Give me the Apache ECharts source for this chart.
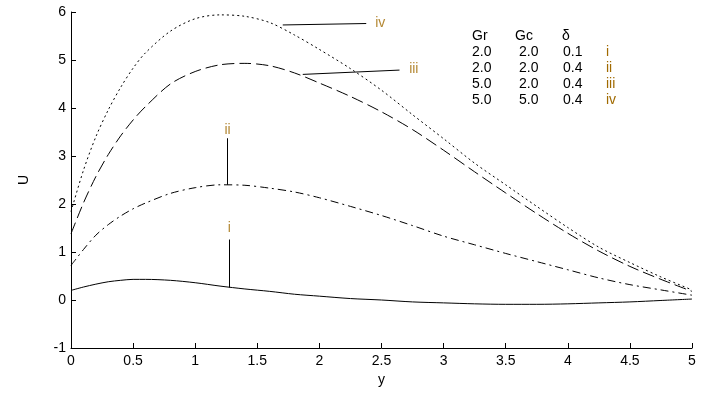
<!DOCTYPE html>
<html>
<head>
<meta charset="utf-8">
<script src="https://cdn.jsdelivr.net/npm/echarts@6/dist/echarts.min.js"></script>
<style>
  html, body { margin: 0; padding: 0; background: #fff; }
  #main { width: 710px; height: 394px; }
</style>
</head>
<body>
<div id="main"></div>
<script>
// y positions shared by all curves
var yPos = [0, 0.1, 0.2, 0.3, 0.4, 0.5, 0.6, 0.8, 1.0, 1.2, 1.4, 1.6, 1.8, 2.0,
            2.25, 2.5, 2.75, 3.0, 3.25, 3.5, 3.75, 4.0, 4.25, 4.5, 4.75, 5.0];

// U values
var uI   = [0.20, 0.27, 0.33, 0.38, 0.41, 0.43, 0.43, 0.41, 0.36, 0.29, 0.23, 0.18, 0.12, 0.08,
            0.03, 0.00, -0.04, -0.06, -0.08, -0.09, -0.09, -0.08, -0.06, -0.04, -0.01, 0.02];
var uII  = [0.72, 1.05, 1.35, 1.57, 1.75, 1.90, 2.02, 2.22, 2.34, 2.40, 2.39, 2.33, 2.25, 2.13,
            1.95, 1.76, 1.55, 1.33, 1.15, 0.97, 0.80, 0.63, 0.46, 0.32, 0.21, 0.10];
var uIII = [1.38, 2.02, 2.57, 3.03, 3.42, 3.75, 4.03, 4.50, 4.76, 4.90, 4.93, 4.88, 4.73, 4.52,
            4.24, 3.92, 3.55, 3.12, 2.67, 2.23, 1.80, 1.39, 1.02, 0.70, 0.43, 0.18];
var uIV  = [1.84, 2.70, 3.40, 3.96, 4.43, 4.83, 5.15, 5.60, 5.86, 5.94, 5.91, 5.78, 5.52, 5.22,
            4.82, 4.37, 3.86, 3.36, 2.85, 2.40, 1.95, 1.51, 1.10, 0.78, 0.48, 0.21];

// curve labels and their leader lines (data coords)
var curveNames = ['i', 'ii', 'iii', 'iv'];
var leaders = [
  [[1.275, 0.26], [1.275, 1.26]],
  [[1.26, 2.40], [1.26, 3.37]],
  [[1.866, 4.70], [2.645, 4.79]],
  [[1.705, 5.73], [2.377, 5.76]]
];
var labelAt = [[1.275, 1.50], [1.26, 3.53], [2.76, 4.80], [2.49, 5.77]];

// parameter table
var tableHead = ['Gr', 'Gc', 'δ'];
var tableRows = [
  ['2.0', '2.0', '0.1', 'i'],
  ['2.0', '2.0', '0.4', 'ii'],
  ['5.0', '2.0', '0.4', 'iii'],
  ['5.0', '5.0', '0.4', 'iv']
];

function pairs(ys) {
  return yPos.map(function (x, i) { return [x, ys[i]]; });
}

var FONT = 'Liberation Sans, Arial, sans-serif';
var LABEL_COLOR = '#a06a00';

function curve(name, ys, dash) {
  return {
    name: name,
    type: 'line',
    data: pairs(ys),
    showSymbol: false,
    smooth: 0.3,
    lineStyle: { color: '#000', width: 1, type: dash },
    z: 3
  };
}

var colX = [472, 519, 563, 606];
var headX = [472, 515, 562];
var rowY = [53, 69, 85, 101];
var graphics = [];
tableHead.forEach(function (t, i) {
  graphics.push({ type: 'text', left: headX[i], top: 37 - 8,
    style: { text: t, font: '14px ' + FONT, fill: '#000' } });
});
tableRows.forEach(function (row, r) {
  row.forEach(function (t, c) {
    graphics.push({ type: 'text', left: colX[c], top: rowY[r] - 8,
      style: { text: t, font: '14px ' + FONT, fill: c === 3 ? LABEL_COLOR : '#000' } });
  });
});

var chart = echarts.init(document.getElementById('main'));
chart.setOption({
  animation: false,
  backgroundColor: '#fff',
  grid: { left: 71, right: 18, top: 12, bottom: 46 },
  xAxis: {
    type: 'value', min: 0, max: 5, interval: 0.5,
    name: 'y', nameLocation: 'middle', nameGap: 23,
    nameTextStyle: { color: '#000', fontSize: 14, fontFamily: FONT },
    axisLine: { onZero: false, lineStyle: { color: '#000', width: 1 } },
    axisTick: { inside: true, length: 5, lineStyle: { color: '#000' } },
    axisLabel: { color: '#000', fontSize: 14, fontFamily: FONT, margin: 6 },
    splitLine: { show: false }
  },
  yAxis: {
    type: 'value', min: -1, max: 6, interval: 1,
    name: 'U', nameLocation: 'middle', nameGap: 40, nameRotate: 90,
    nameTextStyle: { color: '#000', fontSize: 14, fontFamily: FONT },
    axisLine: { show: true, onZero: false, lineStyle: { color: '#000', width: 1 } },
    axisTick: { show: true, inside: true, length: 5, lineStyle: { color: '#000' } },
    axisLabel: { color: '#000', fontSize: 14, fontFamily: FONT, margin: 5 },
    splitLine: { show: false }
  },
  series: [
    curve('i', uI, 'solid'),
    curve('ii', uII, [8, 4, 2, 4]),
    curve('iii', uIII, [12, 5]),
    curve('iv', uIV, [2, 3]),
    {
      type: 'lines',
      coordinateSystem: 'cartesian2d',
      polyline: false,
      data: leaders.map(function (c) { return { coords: c }; }),
      lineStyle: { color: '#000', width: 1, opacity: 1 },
      z: 4
    },
    {
      type: 'scatter',
      symbolSize: 0,
      data: labelAt.map(function (p, i) { return { value: p, name: curveNames[i] }; }),
      label: {
        show: true,
        formatter: '{b}',
        position: 'inside',
        color: LABEL_COLOR,
        fontSize: 14,
        fontFamily: FONT
      },
      z: 5
    }
  ],
  graphic: graphics
});
</script>
</body>
</html>
